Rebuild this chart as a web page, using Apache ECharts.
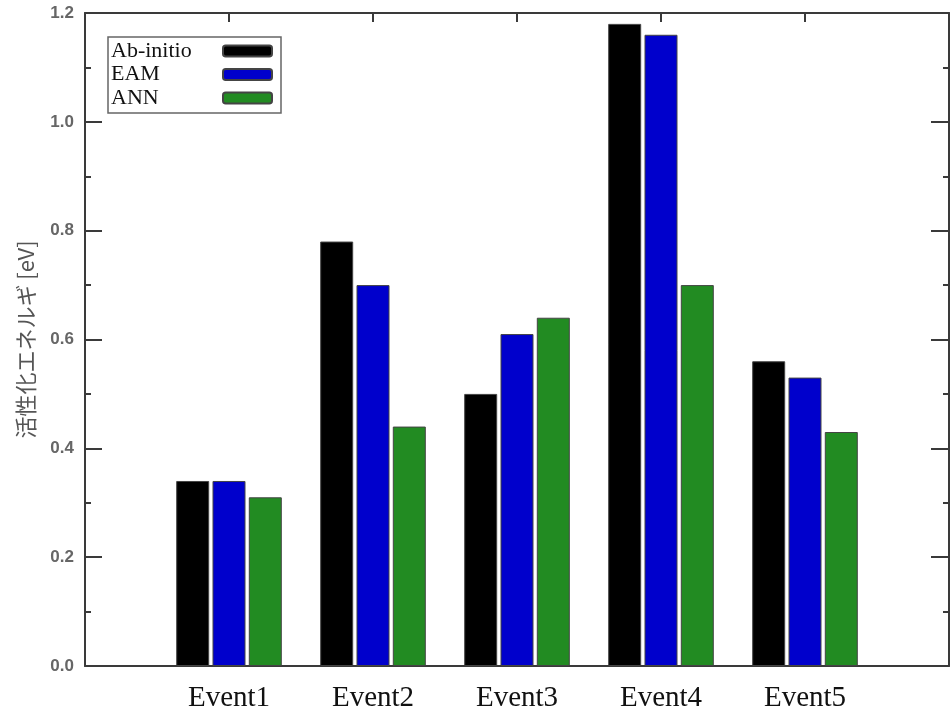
<!DOCTYPE html>
<html>
<head>
<meta charset="utf-8">
<script src="https://cdn.jsdelivr.net/npm/echarts@6/dist/echarts.min.js"></script>
<style>
  html, body { margin: 0; padding: 0; background: #fff; }
  #chart { width: 952px; height: 718px; }
</style>
</head>
<body>
<div id="chart"></div>
<script>
// Category slots: empty slots at both ends pad the axis, events sit on slots 1..5
const categories = ['', 'Event1', 'Event2', 'Event3', 'Event4', 'Event5', ''];
const seriesNames = ['Ab-initio', 'EAM', 'ANN'];
const abInitio = [null, 0.34, 0.78, 0.50, 1.18, 0.56, null];
const eam      = [null, 0.34, 0.70, 0.61, 1.16, 0.53, null];
const ann      = [null, 0.31, 0.44, 0.64, 0.70, 0.43, null];
const yTicks = [0, 0.2, 0.4, 0.6, 0.8, 1.0, 1.2];

const colors = ['#000000', '#0000cc', '#228b22'];
const axisColor = '#3a3a3a';

const chart = echarts.init(document.getElementById('chart'), null, { renderer: 'canvas' });

const barStyle = (c) => ({ color: c, borderColor: '#444', borderWidth: 1 });

const frameAxisLine = { show: true, onZero: false, lineStyle: { color: axisColor, width: 2 } };

const option = {
  animation: false,
  backgroundColor: '#ffffff',
  grid: { left: 85, top: 13, right: 3, bottom: 52, containLabel: false },
  legend: {
    left: 108,
    top: 37,
    orient: 'vertical',
    align: 'right',
    data: seriesNames,
    itemWidth: 49,
    itemHeight: 11,
    itemGap: 1.5,
    padding: [3, 8, 4, 3],
    borderColor: '#666',
    borderWidth: 1.5,
    backgroundColor: '#fff',
    icon: 'roundRect',
    formatter: (name) => '{t|' + name + '}',
    textStyle: {
      rich: {
        t: {
          fontFamily: 'Liberation Serif',
          fontSize: 22,
          color: '#111',
          width: 107,
          align: 'left',
          lineHeight: 23.5
        }
      }
    }
  },
  xAxis: [
    {
      type: 'category',
      data: categories,
      boundaryGap: false,
      position: 'bottom',
      axisLine: frameAxisLine,
      axisTick: { show: false },
      axisLabel: {
        fontFamily: 'Liberation Serif',
        fontSize: 29,
        color: '#111',
        margin: 18
      },
      splitLine: { show: false }
    },
    {
      type: 'category',
      data: categories,
      boundaryGap: false,
      position: 'top',
      axisLine: frameAxisLine,
      axisTick: {
        inside: true,
        length: 9,
        lineStyle: { color: axisColor, width: 2 },
        interval: (i) => i > 0 && i < categories.length - 1
      },
      axisLabel: { show: false },
      splitLine: { show: false }
    }
  ],
  yAxis: [
    {
      type: 'value',
      min: yTicks[0],
      max: yTicks[yTicks.length - 1],
      interval: 0.2,
      position: 'left',
      name: '活性化エネルギ [eV]',
      nameLocation: 'middle',
      nameGap: 48,
      nameTextStyle: {
        fontFamily: 'Noto Sans CJK JP',
        fontSize: 22,
        color: '#555'
      },
      axisLine: frameAxisLine,
      axisTick: { show: true, inside: true, length: 17, lineStyle: { color: axisColor, width: 2 } },
      minorTick: { show: true, inside: true, splitNumber: 2, length: 6, lineStyle: { color: axisColor, width: 2 } },
      axisLabel: {
        fontFamily: 'Liberation Sans',
        fontWeight: 'bold',
        fontSize: 17,
        color: '#666',
        margin: 11,
        formatter: (v) => v.toFixed(1)
      },
      splitLine: { show: false }
    },
    {
      type: 'value',
      min: yTicks[0],
      max: yTicks[yTicks.length - 1],
      interval: 0.2,
      position: 'right',
      axisLine: frameAxisLine,
      axisTick: { show: true, inside: true, length: 18, lineStyle: { color: axisColor, width: 2 } },
      minorTick: { show: true, inside: true, splitNumber: 2, length: 6, lineStyle: { color: axisColor, width: 2 } },
      axisLabel: { show: false },
      splitLine: { show: false }
    }
  ],
  series: [
    { name: seriesNames[0], type: 'bar', data: abInitio, barWidth: 33, barGap: '10%', itemStyle: barStyle(colors[0]) },
    { name: seriesNames[1], type: 'bar', data: eam, barWidth: 33, barGap: '10%', itemStyle: barStyle(colors[1]) },
    { name: seriesNames[2], type: 'bar', data: ann, barWidth: 33, barGap: '10%', itemStyle: barStyle(colors[2]) }
  ]
};

chart.setOption(option);
</script>
</body>
</html>
